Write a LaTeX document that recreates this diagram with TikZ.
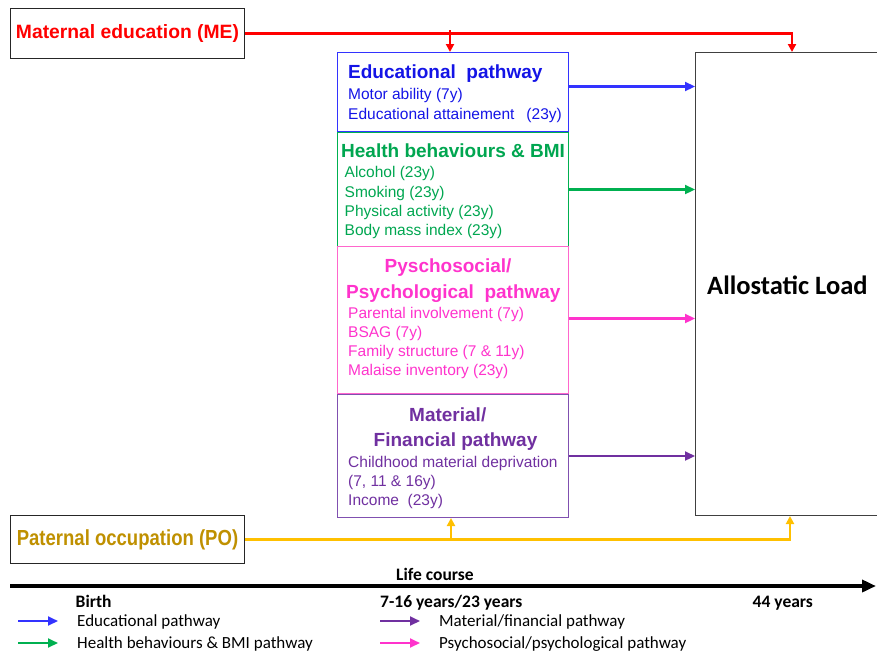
\documentclass[tikz,border=0pt]{standalone}
\usepackage{fontspec}
\setmainfont{Liberation Sans}
\newfontfamily\calibri{Carlito}
\newfontfamily\pofont[FakeStretch=0.85]{Liberation Sans}
\usetikzlibrary{positioning,arrows.meta,calc}
\definecolor{mered}{RGB}{255,0,0}
\definecolor{edublue}{RGB}{20,20,230}
\definecolor{eduline}{RGB}{51,51,255}
\definecolor{hbgreen}{RGB}{0,166,80}
\definecolor{hbline}{RGB}{0,176,80}
\definecolor{psypink}{RGB}{255,51,204}
\definecolor{psyline}{RGB}{255,102,204}
\definecolor{matpurple}{RGB}{112,48,160}
\definecolor{matline}{RGB}{128,80,176}
\definecolor{pogold}{RGB}{191,144,0}
\definecolor{poline}{RGB}{255,192,0}
\tikzset{
  >={Triangle[length=8pt,width=8pt]},
  srcbox/.style={draw=black!85,line width=1pt,anchor=north west,inner sep=0pt,
    minimum width=234pt},
  pbox/.style={draw,line width=1pt,anchor=north west,inner sep=0pt,
    minimum width=231pt},
  albox/.style={draw=black!75,line width=1pt,anchor=north west,inner sep=0pt,
    minimum width=260pt,minimum height=463pt},
  ptitle/.style={anchor=base west,inner sep=0pt,
    font=\fontsize{19}{22}\selectfont\bfseries},
  pitem/.style={anchor=base west,inner sep=0pt,font=\fontsize{15.5}{18}\selectfont},
  srcline/.style={->,line width=2.8pt},
  parr/.style={-{Triangle[length=10pt,width=9pt]},line width=2.2pt},
  timeline/.style={-{Triangle[length=14pt,width=12pt]},line width=3.6pt},
  tllbl/.style={anchor=base west,inner sep=0pt,
    font=\calibri\fontsize{17.5}{20}\selectfont\bfseries},
  lglbl/.style={anchor=base west,inner sep=0pt,font=\calibri\fontsize{17}{20}\selectfont},
}
\begin{document}
\begin{tikzpicture}[x=1pt,y=-1pt]
  \useasboundingbox (0,0) rectangle (877,659);

  % exposures
  \node[srcbox,minimum height=50pt,text=mered,
    font=\fontsize{19.3}{22}\selectfont\bfseries] (me) at (10,8) {Maternal education (ME)};
  \node[srcbox,minimum height=48pt,text=pogold,
    font=\pofont\fontsize{21.8}{24}\selectfont\bfseries] (po) at (10,515) {Paternal occupation (PO)};

  % pathway boxes
  \node[pbox,draw=eduline,minimum height=79pt] (edu) at (337,52) {};
  \node[pbox,draw=hbline,minimum height=114pt] (hb) at (337,132) {};
  \node[pbox,draw=psyline,minimum height=147pt] (psy) at (337,246) {};
  \node[pbox,draw=matline,minimum height=123pt] (mat) at (337,394) {};

  \node[ptitle,text=edublue] (edut) at (348,78.5) {Educational\ \ pathway};
  \node[pitem,text=edublue] (edu1) at (348,99) {Motor ability (7y)};
  \node[pitem,text=edublue] (edu2) at (348,119) {Educational attainement\hspace{12pt}(23y)};

  \node[ptitle,text=hbgreen] (hbt) at (341,157.5) {Health behaviours \& BMI};
  \node[pitem,text=hbgreen] (hb1) at (344.5,177.5) {Alcohol (23y)};
  \node[pitem,text=hbgreen] (hb2) at (344.5,197) {Smoking (23y)};
  \node[pitem,text=hbgreen] (hb3) at (344.5,216.5) {Physical activity (23y)};
  \node[pitem,text=hbgreen] (hb4) at (344.5,235.5) {Body mass index (23y)};

  \node[ptitle,text=psypink] (psyt1) at (384.5,272) {Pyschosocial/};
  \node[ptitle,text=psypink] (psyt2) at (346,298) {Psychological\ \ pathway};
  \node[pitem,text=psypink] (psy1) at (348,318.5) {Parental involvement (7y)};
  \node[pitem,text=psypink] (psy2) at (348,337) {BSAG (7y)};
  \node[pitem,text=psypink] (psy3) at (348,356) {Family structure (7 \& 11y)};
  \node[pitem,text=psypink] (psy4) at (348,375.5) {Malaise inventory (23y)};

  \node[ptitle,text=matpurple] (matt1) at (409,421.5) {Material/};
  \node[ptitle,text=matpurple] (matt2) at (373.5,446.5) {Financial pathway};
  \node[pitem,text=matpurple] (mat1) at (348,467.5) {Childhood material deprivation};
  \node[pitem,text=matpurple] (mat2) at (348,486) {(7, 11 \& 16y)};
  \node[pitem,text=matpurple] (mat3) at (348,505) {Income\ \ (23y)};

  % outcome
  \node[albox] (al) at (695,52) {};
  \node[anchor=base west,inner sep=0pt,font=\calibri\fontsize{26.5}{30}\selectfont\bfseries]
    (alt) at (707,294) {Allostatic Load};

  % ME and PO lines
  \coordinate (mesplit) at (450,30);
  \coordinate (posplit) at (451,539);
  \draw[srcline,draw=mered] (me.east) -| ([xshift=97pt]al.north west);
  \draw[srcline,draw=mered] (mesplit) -- (mesplit |- edu.north);
  \draw[srcline,draw=poline] (po.east) -| ([xshift=95pt]al.south west);
  \draw[srcline,draw=poline] (posplit) -- (posplit |- mat.south);

  % pathways to allostatic load
  \draw[parr,draw=eduline] ([yshift=5.5pt]edu.east) -- ([yshift=5.5pt]edu.east -| al.west);
  \draw[parr,draw=hbline] (hb.east) -- (hb.east -| al.west);
  \draw[parr,draw=psypink] ([yshift=1.5pt]psy.east) -- ([yshift=1.5pt]psy.east -| al.west);
  \draw[parr,draw=matpurple] (mat.east) -- (mat.east -| al.west);

  % life course
  \coordinate (tl0) at (10,586);
  \coordinate (tl1) at (876,586);
  \draw[timeline] (tl0) -- (tl1);
  \node[tllbl] (lc) at (396,580.5) {Life course};
  \node[tllbl] (birth) at (75.5,607.5) {Birth};
  \node[tllbl] (mid) at (380,607.5) {7-16 years/23 years};
  \node[tllbl] (end) at (752.5,607.5) {44 years};

  % legend
  \foreach \n/\x/\y/\c/\t in {
      a/18/621/eduline/Educational pathway,
      b/18/643/hbline/Health behaviours \& BMI pathway,
      c/380/621/matpurple/Material\slash financial pathway,
      d/380/643/psypink/Psychosocial\slash psychological pathway} {
    \coordinate (lg\n) at (\x,\y);
    \draw[parr,line width=1.8pt,draw=\c] (lg\n) -- ++(40,0);
    \node[lglbl] (lgt\n) at ($(lg\n)+(59,5.5)$) {\t};
  }
\end{tikzpicture}
\end{document}
